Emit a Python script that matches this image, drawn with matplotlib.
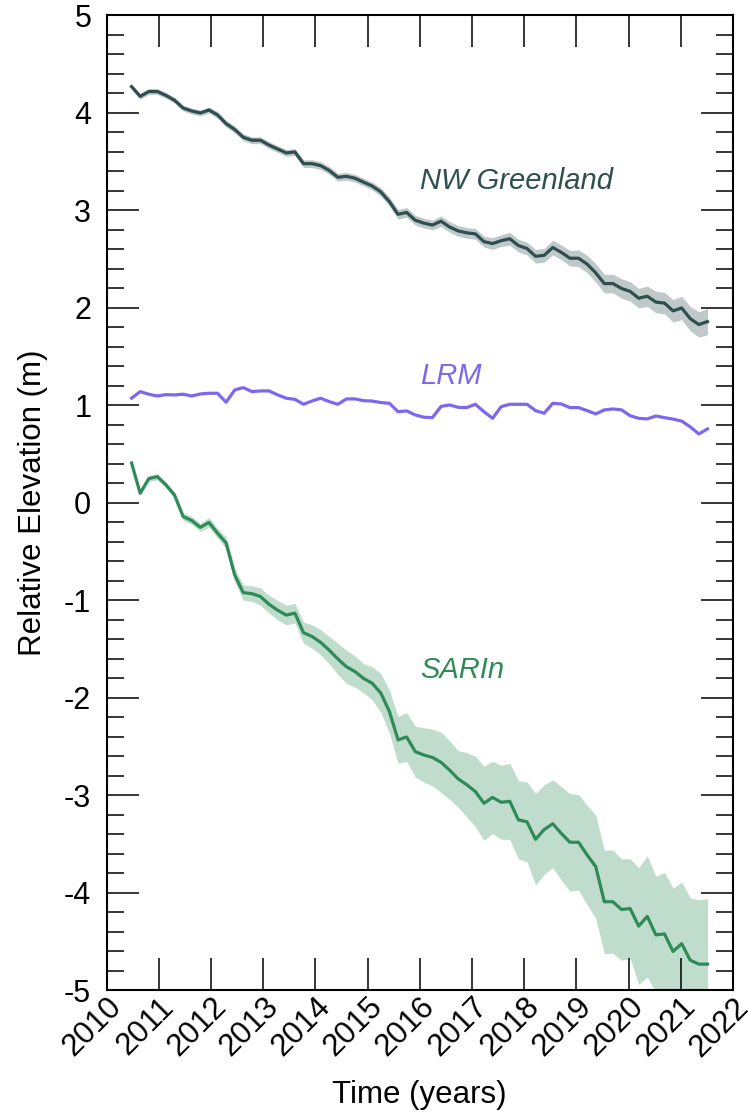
import numpy as np
import matplotlib
matplotlib.use("Agg")
import matplotlib.pyplot as plt
from matplotlib.ticker import MultipleLocator

plt.rcParams['font.family'] = ['Liberation Sans', 'DejaVu Sans']
plt.rcParams['axes.unicode_minus'] = False

# two-monthly samples, mid 2010 to mid 2021
time = np.linspace(2010.48, 2021.51, 68)

nw_greenland = [4.27, 4.17, 4.22, 4.22, 4.18, 4.13, 4.05, 4.02, 4.00, 4.03,
                3.98, 3.89, 3.83, 3.75, 3.72, 3.72, 3.67, 3.63, 3.59, 3.60,
                3.48, 3.48, 3.46, 3.41, 3.34, 3.35, 3.33, 3.29, 3.25, 3.19,
                3.09, 2.96, 2.98, 2.90, 2.87, 2.85, 2.89, 2.83, 2.79, 2.77,
                2.76, 2.68, 2.66, 2.69, 2.71, 2.64, 2.61, 2.53, 2.54, 2.62,
                2.57, 2.51, 2.51, 2.45, 2.36, 2.25, 2.25, 2.20, 2.17, 2.10,
                2.12, 2.06, 2.05, 1.97, 2.00, 1.89, 1.83, 1.86]
nw_err = [0.025, 0.03, 0.03, 0.03, 0.03, 0.03, 0.03, 0.03, 0.03, 0.03,
          0.035, 0.035, 0.035, 0.035, 0.035, 0.035, 0.035, 0.035, 0.035, 0.035,
          0.04, 0.04, 0.04, 0.04, 0.04, 0.04, 0.04, 0.04, 0.04, 0.045,
          0.045, 0.05, 0.05, 0.05, 0.05, 0.05, 0.055, 0.055, 0.055, 0.055,
          0.055, 0.055, 0.06, 0.06, 0.065, 0.065, 0.065, 0.07, 0.07, 0.075,
          0.075, 0.08, 0.085, 0.09, 0.095, 0.095, 0.095, 0.1, 0.1, 0.1,
          0.105, 0.11, 0.11, 0.115, 0.12, 0.125, 0.13, 0.135]

lrm = [1.074, 1.142, 1.115, 1.097, 1.111, 1.108, 1.115, 1.097, 1.118, 1.125,
       1.125, 1.033, 1.159, 1.183, 1.142, 1.149, 1.149, 1.108, 1.074, 1.063,
       1.012, 1.046, 1.074, 1.039, 1.012, 1.067, 1.067, 1.049, 1.045, 1.030,
       1.022, 0.936, 0.944, 0.903, 0.879, 0.875, 0.990, 1.005, 0.981, 0.978,
       1.012, 0.936, 0.868, 0.988, 1.012, 1.012, 1.012, 0.947, 0.920, 1.022,
       1.015, 0.978, 0.978, 0.947, 0.913, 0.954, 0.964, 0.955, 0.895, 0.868,
       0.862, 0.892, 0.875, 0.860, 0.840, 0.780, 0.708, 0.759]

sarin = [0.41, 0.10, 0.25, 0.27, 0.185, 0.08, -0.14, -0.18, -0.25, -0.20,
         -0.31, -0.41, -0.74, -0.92, -0.93, -0.96, -1.04, -1.10, -1.15, -1.13,
         -1.33, -1.37, -1.43, -1.51, -1.60, -1.68, -1.73, -1.80, -1.85, -1.95,
         -2.14, -2.43, -2.40, -2.55, -2.585, -2.61, -2.66, -2.74, -2.83, -2.89,
         -2.96, -3.08, -3.02, -3.07, -3.06, -3.25, -3.27, -3.45, -3.35, -3.29,
         -3.39, -3.48, -3.48, -3.61, -3.73, -4.09, -4.09, -4.17, -4.16, -4.34,
         -4.24, -4.43, -4.42, -4.60, -4.52, -4.69, -4.73, -4.73]
sarin_err = [0.01, 0.02, 0.03, 0.03, 0.03, 0.03, 0.04, 0.04, 0.04, 0.05,
             0.05, 0.06, 0.07, 0.08, 0.08, 0.09, 0.09, 0.10, 0.10, 0.10,
             0.11, 0.12, 0.13, 0.14, 0.16, 0.17, 0.16, 0.15, 0.17, 0.20,
             0.22, 0.24, 0.25, 0.26, 0.28, 0.29, 0.31, 0.30, 0.29, 0.33,
             0.36, 0.38, 0.37, 0.38, 0.39, 0.40, 0.41, 0.47, 0.46, 0.45,
             0.48, 0.50, 0.49, 0.51, 0.53, 0.53, 0.53, 0.52, 0.51, 0.60,
             0.62, 0.60, 0.63, 0.65, 0.63, 0.64, 0.66, 0.67]

series = [
    ('NW Greenland', nw_greenland, nw_err, 'darkslategray', 3.3),
    ('LRM', lrm, None, 'mediumslateblue', 1.3),
    ('SARIn', sarin, sarin_err, 'seagreen', -1.71),
]

fig = plt.figure(figsize=(7.48, 11.12), dpi=100)
ax = fig.add_axes([0.1424, 0.1093, 0.8376, 0.8768])

for name, vals, err, color, label_y in series:
    vals = np.array(vals)
    if err is not None:
        err = np.array(err)
        ax.fill_between(time, vals - err, vals + err, color=color,
                        alpha=0.3, linewidth=0)
    ax.plot(time, vals, color=color, linewidth=2.3)
    ax.text(2016.0, label_y, name, color=color, fontsize=21,
            style='italic', va='center', ha='left')

ax.set_xlim(2010, 2022)
ax.set_ylim(-5, 5)
ax.xaxis.set_major_locator(MultipleLocator(1))
ax.yaxis.set_major_locator(MultipleLocator(1))
ax.yaxis.set_minor_locator(MultipleLocator(0.2))

ax.tick_params(which='both', direction='in', top=True, right=True,
               width=1.1)
ax.tick_params(which='major', length=23)
ax.tick_params(which='minor', length=12)
ax.tick_params(axis='y', pad=11, labelsize=22)
ax.tick_params(axis='x', pad=1, labelsize=22.5)
for s in ax.spines.values():
    s.set_linewidth(1.5)

for lab in ax.get_xticklabels():
    lab.set_rotation(45)
    lab.set_rotation_mode('anchor')
    lab.set_ha('right')
    lab.set_va('top')

ax.set_xlabel('Time (years)', fontsize=22.5)
ax.set_ylabel('Relative Elevation (m)', fontsize=22.5)
ax.xaxis.set_label_coords(0.5, -0.092)
ax.yaxis.set_label_coords(-0.093, 0.5)

fig.savefig('out.png', dpi=100)
